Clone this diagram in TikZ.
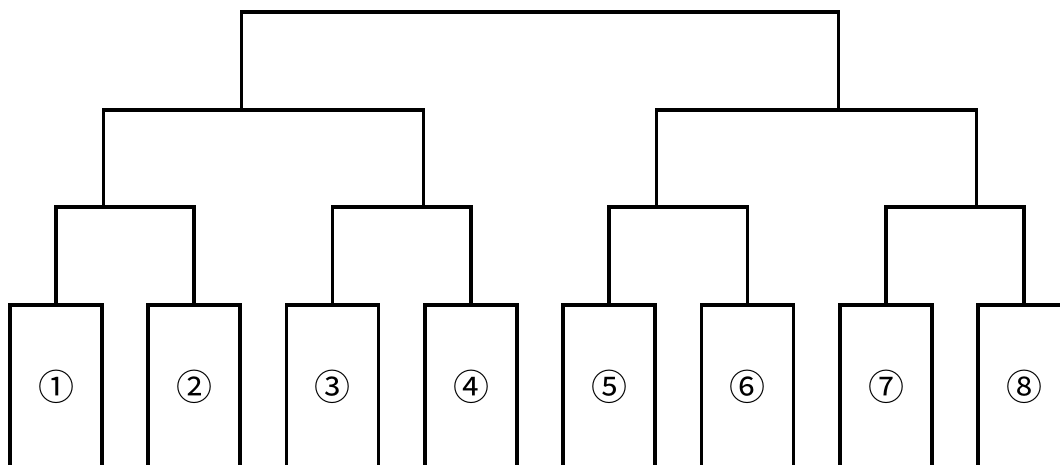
\documentclass[tikz,border=0pt]{standalone}
\usepackage{fontspec}
\newfontfamily\circfont{Noto Sans CJK JP}
\begin{document}
\begin{tikzpicture}[x=0.75pt,y=-0.75pt,
  leaf/.style={draw=black,line width=2.4pt,minimum width=69,minimum height=123,
    inner sep=0pt,font=\circfont\fontsize{27}{30}\selectfont,anchor=center},
  link/.style={draw=black,line width=2.4pt}]
\clip (0,0) rectangle (1060,464);
\fill[white] (0,0) rectangle (1060,464);
% leaves (tops at y=305, extending past the lower edge)
\node[leaf] (b1) at (56,387) {①};
\node[leaf] (b2) at (194,387) {②};
\node[leaf] (b3) at (332.5,387) {③};
\node[leaf] (b4) at (471,387) {④};
\node[leaf] (b5) at (609,387) {⑤};
\node[leaf] (b6) at (747.5,387) {⑥};
\node[leaf] (b7) at (886,387) {⑦};
\node[leaf] (b8) at (1024,387) {⑧};
% levels
\coordinate (L1) at (0,207);
\coordinate (L2) at (0,110);
\coordinate (L3) at (0,12);
% level 1 brackets
\draw[link] (b1.north) -- (b1.north |- L1) -- (b2.north |- L1) -- (b2.north);
\draw[link] (b3.north) -- (b3.north |- L1) -- (b4.north |- L1) -- (b4.north);
\draw[link] (b5.north) -- (b5.north |- L1) -- (b6.north |- L1) -- (b6.north);
\draw[link] (b7.north) -- (b7.north |- L1) -- (b8.north |- L1) -- (b8.north);
% level 2 brackets
\coordinate (s12) at (b1.north east |- L1);
\coordinate (s34) at (b4.north west |- L1);
\coordinate (s56) at (b5.north east |- L1);
\coordinate (s78) at (b8.north west |- L1);
\draw[link] (s12) -- (s12 |- L2) -- (s34 |- L2) -- (s34);
\draw[link] (s56) -- (s56 |- L2) -- (s78 |- L2) -- (s78);
% top bracket
\coordinate (sL) at (b2.north east |- L2);
\coordinate (sR) at (b7.north west |- L2);
\draw[link] (sL) -- (sL |- L3) -- (sR |- L3) -- (sR);
\end{tikzpicture}
\end{document}
